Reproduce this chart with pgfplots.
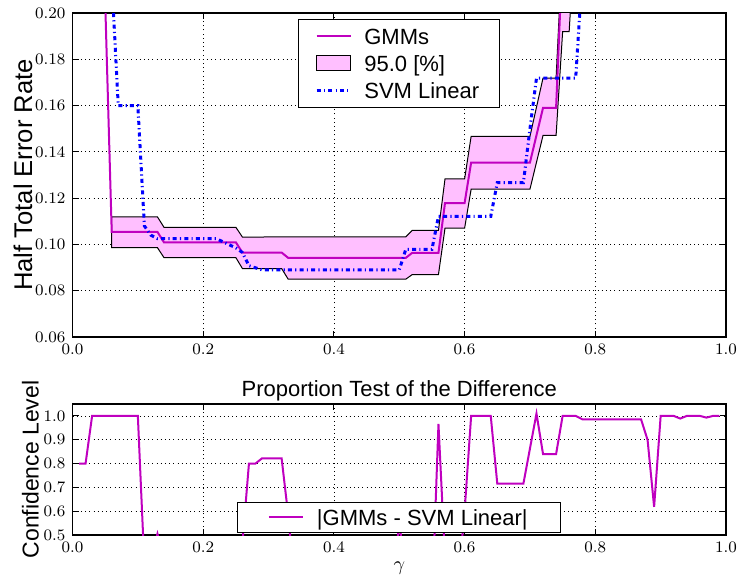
\documentclass[border=0pt]{standalone}
\usepackage[no-math]{fontspec}
\setmainfont{Liberation Sans}
\usepackage{pgfplots}
\pgfplotsset{compat=1.18}
\usetikzlibrary{calc}

\definecolor{gmm}{rgb}{0.75,0,0.75}
\definecolor{band}{RGB}{255,191,255}

\pgfplotsset{
  every axis/.append style={
    scale only axis, width=326.75pt,
    xmin=0, xmax=1, xtick={0,0.2,0.4,0.6,0.8,1},
    scaled ticks=false,
    grid=major,
    major grid style={black, line width=0.4pt, dash pattern=on 0.5pt off 1.6pt},
    axis line style={line width=0.6pt},
    tick style={black, line width=0.5pt}, major tick length=3pt,
    tick label style={font=\fontsize{8.5}{10}\selectfont},
    xticklabel style={/pgf/number format/.cd, fixed, fixed zerofill, precision=1},
    legend cell align=left,
  },
}

\begin{document}
\begin{tikzpicture}
\begin{axis}[
    name=top,
    height=162pt,
    ymin=0.06, ymax=0.20,
    ytick={0.06,0.08,0.10,0.12,0.14,0.16,0.18,0.20},
    yticklabel style={/pgf/number format/.cd, fixed, fixed zerofill, precision=2},
    ylabel={Half Total Error Rate},
    every axis y label/.style={at={(axis description cs:-0.0757,0.5)}, rotate=90, anchor=center,
      font=\fontsize{12.8}{15}\selectfont},
    legend style={at={(axis description cs:0.3446,0.983)}, anchor=north west,
      draw=black, line width=0.5pt, font=\fontsize{11}{13}\selectfont,
      inner xsep=8.5pt, inner ysep=1.75pt, row sep=0pt,
      nodes={inner xsep=1.5pt, inner ysep=1.25pt, text height=9.7pt, text depth=1.3pt},
      /tikz/every odd column/.append style={column sep=4.5pt}},
  ]
  % confidence band: upper bound forward, lower bound back
  \addplot[fill=band, draw=black, line width=0.5pt, forget plot] coordinates {
    (0.06,0.1119) (0.13,0.1119) (0.14,0.1074) (0.25,0.1074) (0.26,0.1032)
    (0.51,0.1033) (0.52,0.1061) (0.56,0.1061) (0.57,0.1283) (0.60,0.1283)
    (0.61,0.1467) (0.70,0.1467) (0.72,0.1719) (0.74,0.1719) (0.75,0.23)
    (0.76,0.26) (0.77,0.28)
    (0.77,0.24) (0.76,0.192) (0.75,0.192) (0.74,0.1471) (0.72,0.1471)
    (0.70,0.1239) (0.61,0.1239) (0.60,0.107) (0.57,0.107) (0.56,0.0870)
    (0.52,0.0870) (0.51,0.0850) (0.33,0.0850) (0.32,0.0896) (0.26,0.0896)
    (0.25,0.0943) (0.14,0.0943) (0.13,0.0986) (0.06,0.0986)
  } -- cycle;
  \addplot[gmm, line width=1pt] coordinates {
    (0.04,0.30) (0.05,0.205) (0.06,0.1054) (0.13,0.1054) (0.14,0.1009)
    (0.25,0.1009) (0.26,0.0965) (0.32,0.0965) (0.33,0.0942) (0.51,0.0942)
    (0.52,0.0964) (0.56,0.0964) (0.57,0.1179) (0.60,0.1179) (0.61,0.1354)
    (0.70,0.1354) (0.72,0.159) (0.74,0.159) (0.75,0.227) (0.76,0.26)
  };
  \addlegendentry{GMMs}
  \addlegendimage{legend image code/.code={\draw[fill=band,draw=black,line width=0.5pt] (0pt,-3.75pt) rectangle (16.7pt,3.75pt);}}
  \addlegendentry{95.0 [\%]}
  \addplot[blue, line width=1.5pt, dash pattern=on 2pt off 1.6pt on 0.6pt off 1.6pt] coordinates {
    (0.06,0.215) (0.07,0.16) (0.10,0.16) (0.11,0.108) (0.12,0.104)
    (0.13,0.1025) (0.22,0.1025) (0.25,0.0985) (0.26,0.0965) (0.27,0.0908)
    (0.29,0.089) (0.50,0.089) (0.51,0.0979) (0.55,0.0979) (0.56,0.1121)
    (0.64,0.1121) (0.65,0.1267) (0.69,0.1267) (0.70,0.150) (0.71,0.1719)
    (0.77,0.1719) (0.78,0.217)
  };
  \addlegendentry{SVM Linear}
\end{axis}

\begin{axis}[
    name=bot,
    at={($(top.south west)+(0,-33.5pt)$)}, anchor=north west,
    height=65.5pt,
    ymin=0.5, ymax=1.05,
    ytick={0.5,0.6,0.7,0.8,0.9,1.0},
    yticklabel style={/pgf/number format/.cd, fixed, fixed zerofill, precision=1},
    title={Proportion Test of the Difference},
    every axis title/.style={at={(axis description cs:0.5,1)}, anchor=base, yshift=3.7pt,
      font=\fontsize{11}{13}\selectfont},
    xlabel={$\gamma$},
    every axis x label/.style={at={(axis description cs:0.5,0)}, anchor=base, yshift=-17.5pt,
      font=\fontsize{10}{12}\selectfont},
    ylabel={Confidence Level},
    every axis y label/.style={at={(axis description cs:-0.0643,0.5)}, rotate=90, anchor=center,
      font=\fontsize{11.5}{13}\selectfont},
    legend style={at={(axis description cs:0.5,0.018)}, anchor=south,
      draw=black, line width=0.5pt, font=\fontsize{11}{13}\selectfont,
      inner xsep=15pt, inner ysep=0.75pt,
      nodes={inner xsep=1.5pt, inner ysep=1.25pt, text height=9.7pt, text depth=1.3pt},
      /tikz/every odd column/.append style={column sep=5pt}},
  ]
  \addplot[gmm, line width=1pt] coordinates {
    (0.01,0.80) (0.02,0.80) (0.03,1.0) (0.10,1.0) (0.11,0.375)
    (0.12,0.40) (0.13,0.505) (0.14,0.40) (0.15,0.25) (0.25,0.25)
    (0.26,0.467) (0.27,0.80) (0.28,0.80) (0.29,0.822) (0.32,0.822)
    (0.33,0.585) (0.34,0.30) (0.49,0.30) (0.50,0.55) (0.51,0.35)
    (0.55,0.20) (0.56,0.966) (0.57,0.40) (0.58,0.30) (0.59,0.30)
    (0.60,0.60) (0.61,1.0) (0.64,1.0) (0.65,0.716) (0.69,0.716)
    (0.71,1.01) (0.72,0.84) (0.74,0.84) (0.75,1.0) (0.77,1.0)
    (0.78,0.986) (0.87,0.986) (0.88,0.899) (0.89,0.618) (0.90,1.0)
    (0.92,1.0) (0.93,0.989) (0.94,1.0) (0.96,1.0) (0.97,0.993)
    (0.98,1.0) (0.99,1.0)
  };
  \addlegendentry{|GMMs - SVM Linear|\hspace{4pt}}
\end{axis}

\pgfresetboundingbox
\path ($(top.north west)+(-36.25pt,6.5pt)$) rectangle ($(bot.south east)+(6pt,-23pt)$);
\end{tikzpicture}
\end{document}
